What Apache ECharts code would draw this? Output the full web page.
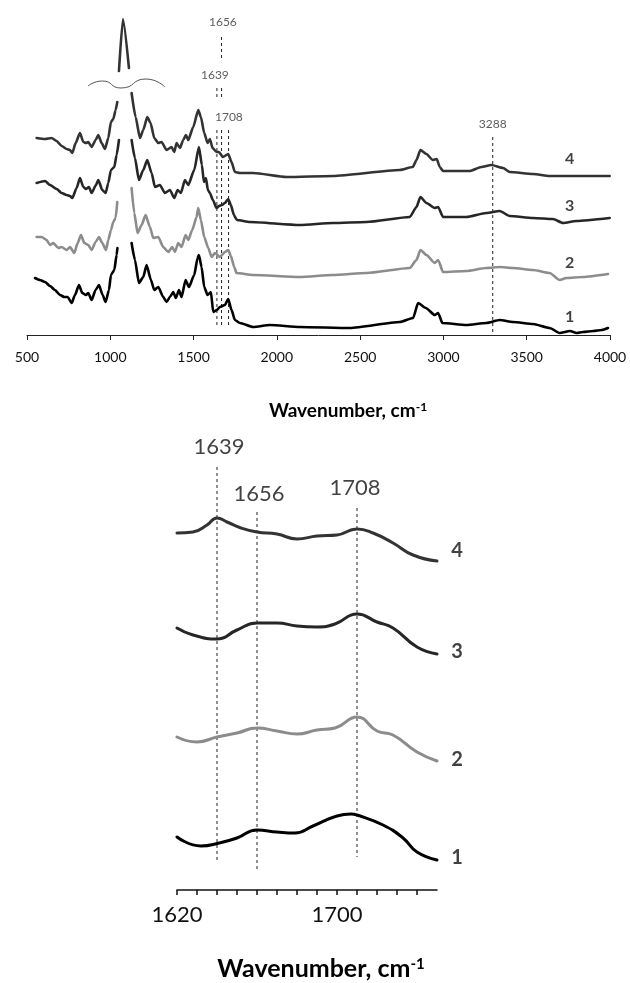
<!DOCTYPE html>
<html>
<head>
<meta charset="utf-8">
<script src="https://cdn.jsdelivr.net/npm/echarts@6/dist/echarts.min.js"></script>
<style>
  html, body { margin: 0; padding: 0; background: #fff; }
  #chart { width: 630px; height: 983px; }
</style>
</head>
<body>
<div id="chart"></div>
<script>
// full spectra, offset vertically (arbitrary units), gap = cut peak
var spec1 = [[548,57],[578,55],[608,53],[638,49],[668,45],[698,40],[724,38],[744,38],[768,32],[788,40],[812,50],[832,42],[854,40],[868,42],[888,35],[912,45],[932,50],[954,40],[972,33],[992,45],[1004,60],[1024,65],[1038,80],[1043,87],[1046,null],
  [1128,92],[1148,75],[1172,52],[1198,58],[1218,70],[1244,55],[1264,45],[1288,48],[1318,38],[1338,33],[1358,38],[1378,43],[1394,37],[1412,45],[1428,38],[1452,55],[1472,48],[1504,60],[1524,77],[1532,80],[1548,68],[1564,48],[1584,40],[1604,43],[1618,23],[1640,25],[1658,28],[1688,30],[1708,36],[1728,25],[1748,15],[1778,12],[1858,8],[1958,10],[2138,8],[2438,7],[2738,13],[2818,17],[2848,32],[2894,27],[2948,20],[2968,22],[2994,12],[3138,10],[3258,12],[3338,15],[3418,13],[3538,11],[3638,7],[3698,2],[3760,4],[3800,2],[3838,3],[3900,4],[3950,5],[3988,7]];
var spec2 = [[558,98],[588,98],[618,95],[638,90],[658,92],[688,87],[708,88],[738,85],[758,88],[784,82],[804,92],[824,100],[844,92],[868,90],[888,85],[912,93],[932,98],[952,92],[974,85],[988,95],[1004,105],[1018,113],[1032,117],[1042,133],[1046,null],
  [1128,147],[1144,122],[1164,102],[1188,110],[1212,120],[1238,108],[1258,97],[1288,98],[1318,88],[1348,83],[1372,88],[1388,83],[1408,92],[1428,88],[1452,100],[1468,95],[1492,105],[1518,118],[1528,127],[1544,115],[1564,98],[1588,87],[1608,78],[1628,82],[1658,78],[1688,83],[1708,85],[1724,79],[1744,68],[1758,62],[1858,60],[2138,58],[2336,60],[2538,62],[2798,67],[2838,75],[2862,85],[2898,80],[2948,72],[2968,75],[2998,63],[3138,64],[3258,67],[3338,68],[3418,67],[3538,65],[3638,62],[3698,55],[3738,57],[3838,58],[3988,61]];
var spec3 = [[558,152],[608,154],[638,150],[678,146],[708,142],[738,140],[758,139],[772,137],[798,147],[818,157],[838,148],[854,146],[872,148],[888,142],[914,150],[928,155],[952,145],[972,142],[988,152],[1004,165],[1024,168],[1038,180],[1052,195],[1056,null],
  [1128,195],[1148,177],[1172,155],[1198,165],[1222,175],[1248,162],[1268,148],[1298,150],[1328,142],[1358,145],[1384,137],[1404,145],[1424,142],[1448,155],[1468,150],[1504,165],[1532,188],[1550,170],[1562,153],[1574,157],[1586,145],[1598,142],[1616,135],[1638,127],[1652,129],[1670,130],[1688,132],[1708,136],[1724,130],[1742,120],[1760,115],[1838,113],[2138,110],[2336,112],[2538,113],[2798,118],[2838,128],[2862,138],[2898,132],[2948,127],[2968,128],[2998,118],[3138,118],[3258,122],[3338,124],[3398,119],[3538,117],[3658,116],[3718,112],[3798,114],[3998,117]];
var spec4 = [[558,197],[608,196],[648,197],[678,194],[708,189],[738,186],[758,185],[772,182],[792,192],[818,202],[838,193],[854,192],[868,193],[888,188],[912,195],[928,200],[948,192],[968,186],[988,197],[1004,213],[1018,216],[1032,225],[1042,233],[1047,null],
  [1052,264],[1076,316],[1112,267],[1120,null],
  [1128,242],[1152,218],[1178,197],[1198,205],[1222,218],[1242,212],[1264,197],[1288,192],[1308,193],[1338,185],[1368,188],[1384,183],[1398,192],[1418,187],[1438,195],[1454,200],[1468,195],[1498,208],[1528,225],[1544,218],[1564,202],[1584,192],[1598,196],[1614,187],[1638,183],[1652,183],[1676,178],[1708,181],[1728,173],[1748,163],[1778,162],[1858,162],[2058,158],[2336,159],[2738,165],[2816,168],[2838,175],[2862,185],[2898,181],[2936,175],[2960,176],[2978,168],[2998,164],[3158,164],[3228,168],[3288,170],[3358,167],[3398,163],[3538,161],[3638,159],[3998,159]];

// axis break squiggle over the cut peak
var breakMark = [[866,249],[952,254],[1064,247],[1214,256],[1328,248]];

// band markers, upper panel
var bandNames = ['1639', '1656', '1708', '3288'];
var bandPos = [1640, 1668, 1710, 3296];
var bandDash = [
  [[247,235],[205,8]],
  [[298,277],[247,235],[205,8]],
  [[205,8]],
  [[198,2]]
];
var bandLabel = [[1628,260],[1676,313],[1712,218],[3296,211]];

var specNames = ['1', '2', '3', '4'];
var specLabelY = [18, 72, 129, 176];
var specLabelX = 3758;

// zoomed 1620-1750 panel
var zoom1 = [[1620,53],[1632,44],[1641,47],[1650,52],[1660,60],[1670,58],[1679,57],[1688,64],[1700,74],[1707,76],[1710,75],[1723,65],[1733,52],[1740,38],[1750,30]];
var zoom2 = [[1620,153],[1630,148],[1640,153],[1650,157],[1660,162],[1670,159],[1680,156],[1690,160],[1699,162],[1710,173],[1720,159],[1728,155],[1740,138],[1750,129]];
var zoom3 = [[1620,262],[1628,255],[1640,251],[1650,260],[1660,267],[1670,267],[1680,264],[1690,263],[1699,266],[1710,276],[1720,268],[1728,262],[1740,243],[1750,236]];
var zoom4 = [[1620,357],[1628,358],[1635,365],[1640,372],[1645,368],[1652,362],[1660,358],[1670,356],[1680,351],[1690,354],[1700,355],[1710,361],[1718,357],[1728,347],[1738,335],[1750,329]];
var zoomBandNames = ['1639', '1656', '1708'];
var zoomBandPos = [1640, 1660, 1710];
var zoomBandSpan = [[423,27],[378,21],[382,33]];
var zoomBandLabel = [[1641,443],[1661,396],[1709,402]];
var zoomLabelY = [32, 130, 238, 339];
var zoomLabelX = 1760;
var zoomTickLabels = [1620, 1700];

var specColors = ['#000000', '#8c8c8c', '#262626', '#333333'];
var FONT = 'Lato, "Open Sans", sans-serif';

var chart = echarts.init(document.getElementById('chart'));

function dashSeries(xi, x, spans) {
  let data = [];
  spans.forEach((s, i) => {
    if (i > 0) data.push([x, null]);
    data.push([x, s[0]]);
    data.push([x, s[1]]);
  });
  return {
    type: 'line', xAxisIndex: xi, yAxisIndex: xi, data: data, symbol: 'none', silent: true,
    connectNulls: false, z: 1,
    lineStyle: { color: '#222', width: 1, type: [3, 3] }
  };
}

function textSeries(xi, pts, texts, size, bold, color) {
  return {
    type: 'scatter', xAxisIndex: xi, yAxisIndex: xi, symbolSize: 0, silent: true, clip: false,
    data: pts.map((p, i) => ({ value: p, name: texts[i] })),
    label: {
      show: true, position: 'inside', formatter: (p) => p.name,
      fontFamily: FONT, fontSize: size, fontWeight: bold ? 'bold' : 'normal', color: color
    }
  };
}

var series = [];
[spec1, spec2, spec3, spec4].forEach((d, i) => {
  series.push({
    type: 'line', xAxisIndex: 0, yAxisIndex: 0, data: d, symbol: 'none', smooth: 0.2, smoothMonotone: 'x',
    connectNulls: false, z: 3,
    lineStyle: { color: specColors[i], width: 2.6, cap: 'round', join: 'round' }
  });
});
series.push({
  type: 'line', xAxisIndex: 0, yAxisIndex: 0, data: breakMark, symbol: 'none', smooth: 0.6, silent: true,
  lineStyle: { color: '#555', width: 1 }
});
bandPos.forEach((x, i) => series.push(dashSeries(0, x, bandDash[i])));
series.push(textSeries(0, bandLabel, bandNames, 12, false, '#333'));
series.push(textSeries(0, specNames.map((n, i) => [specLabelX, specLabelY[i]]), specNames, 16, true, '#111'));

[zoom1, zoom2, zoom3, zoom4].forEach((d, i) => {
  series.push({
    type: 'line', xAxisIndex: 1, yAxisIndex: 1, data: d, symbol: 'none', smooth: 0.5, z: 3,
    lineStyle: { color: specColors[i], width: 3, cap: 'round', join: 'round' }
  });
});
zoomBandPos.forEach((x, i) => series.push(dashSeries(1, x, [zoomBandSpan[i]])));
series.push(textSeries(1, zoomBandLabel, zoomBandNames, 22, false, '#111'));
series.push(textSeries(1, specNames.map((n, i) => [zoomLabelX, zoomLabelY[i]]), specNames, 20, true, '#111'));

var titleRich = {
  a: { fontFamily: FONT, fontWeight: 'bold', color: '#111' },
  s: { fontFamily: FONT, fontWeight: 'bold', color: '#111', verticalAlign: 'top' }
};

var option = {
  animation: false,
  backgroundColor: '#fff',
  grid: [
    { left: 27, right: 20, top: 10, height: 325 },
    { left: 177, right: 193, top: 440, height: 450 }
  ],
  xAxis: [
    {
      type: 'value', gridIndex: 0, min: 500, max: 4000, interval: 500,
      axisLine: { lineStyle: { color: '#222', width: 1 } },
      axisTick: { show: true, inside: false, length: 5, lineStyle: { color: '#222' } },
      axisLabel: { fontFamily: FONT, fontSize: 14, color: '#111', margin: 15, formatter: (v) => String(v) },
      splitLine: { show: false }
    },
    {
      type: 'value', gridIndex: 1, min: 1620, max: 1750, interval: 10,
      axisLine: { lineStyle: { color: '#111', width: 1.5 } },
      axisTick: { show: true, inside: false, length: 5, lineStyle: { color: '#111', width: 1.5 } },
      axisLabel: {
        fontFamily: FONT, fontSize: 22, color: '#111', margin: 14, showMaxLabel: false,
        formatter: (v) => zoomTickLabels.indexOf(v) >= 0 ? String(v) : ''
      },
      splitLine: { show: false }
    }
  ],
  yAxis: [
    { type: 'value', gridIndex: 0, min: 0, max: 325, show: false },
    { type: 'value', gridIndex: 1, min: 0, max: 450, show: false }
  ],
  graphic: [
    {
      type: 'text', x: 348, y: 411,
      style: {
        text: '{a|Wavenumber, cm}{s|-1}', align: 'center', verticalAlign: 'middle',
        rich: { a: Object.assign({ fontSize: 19 }, titleRich.a), s: Object.assign({ fontSize: 12 }, titleRich.s) }
      }
    },
    {
      type: 'text', x: 321, y: 969,
      style: {
        text: '{a|Wavenumber, cm}{s|-1}', align: 'center', verticalAlign: 'middle',
        rich: { a: Object.assign({ fontSize: 25 }, titleRich.a), s: Object.assign({ fontSize: 15 }, titleRich.s) }
      }
    }
  ],
  series: series
};
chart.setOption(option);
</script>
</body>
</html>
